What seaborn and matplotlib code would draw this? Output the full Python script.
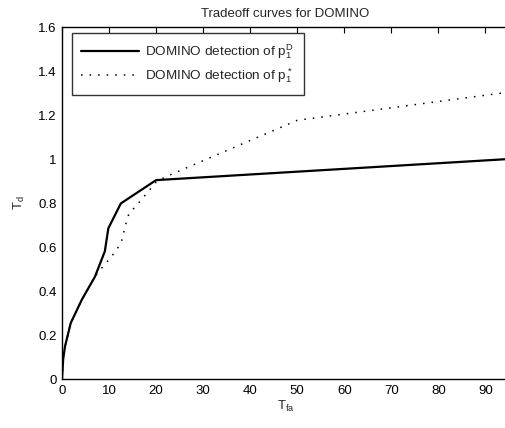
import matplotlib
matplotlib.use("Agg")
import matplotlib.pyplot as plt
import pandas as pd
import seaborn as sns

# values
t_fa_pD = [0, 0.25, 0.64, 1.85, 4.2, 7.0, 9.1, 9.85, 12.5, 20.0, 95.0]
t_d_pD = [0, 0.09, 0.148, 0.254, 0.36, 0.465, 0.58, 0.685, 0.798, 0.904, 1.0]

t_fa_pstar = [0, 0.25, 0.64, 1.85, 4.2, 7.0, 8.1, 10.5, 12.0, 12.7, 13.5, 14.2,
              16.6, 20.0, 22.0, 50.0, 95.0]
t_d_pstar = [0, 0.09, 0.148, 0.254, 0.36, 0.465, 0.496, 0.556, 0.6, 0.63, 0.7, 0.75,
             0.808, 0.895, 0.919, 1.176, 1.304]

labels = ['DOMINO detection of p$_1^D$', 'DOMINO detection of p$_1^*$']

df = pd.concat([
    pd.DataFrame({'T_fa': t_fa_pD, 'T_d': t_d_pD, 'curve': labels[0]}),
    pd.DataFrame({'T_fa': t_fa_pstar, 'T_d': t_d_pstar, 'curve': labels[1]}),
])

sns.set_style('white')
plt.rcParams['font.family'] = ['Liberation Sans', 'DejaVu Sans']
plt.rcParams['mathtext.fontset'] = 'custom'
plt.rcParams['mathtext.rm'] = 'Liberation Sans'
plt.rcParams['mathtext.it'] = 'Liberation Sans'

fig = plt.figure(figsize=(5.06, 4.28), dpi=100)
ax = fig.add_axes([62 / 506, 1 - 379 / 428, (509 - 62) / 506, (379 - 27) / 428])

sns.lineplot(data=df, x='T_fa', y='T_d', hue='curve', style='curve',
             palette=['black', 'black'], sort=False, estimator=None, ax=ax)
ax.lines[0].set_linewidth(1.6)
ax.lines[1].set_linewidth(1.1)
ax.lines[1].set_linestyle((0, (1, 4.6)))

ax.set_xlim(0, 95)
ax.set_ylim(0, 1.6)
ax.set_xticks(range(0, 100, 10))
ax.set_yticks([0, 0.2, 0.4, 0.6, 0.8, 1, 1.2, 1.4, 1.6])
ax.set_yticklabels(['0', '0.2', '0.4', '0.6', '0.8', '1', '1.2', '1.4', '1.6'])
ax.tick_params(direction='in', length=4, width=0.8, top=True, right=False,
               labelsize=9.5, colors='black', pad=4)
for s in ax.spines.values():
    s.set_visible(True)
    s.set_color('black')
    s.set_linewidth(1.0)

ax.set_title('Tradeoff curves for DOMINO', fontsize=9.5, pad=7)
ax.set_xlabel('T$_{fa}$', fontsize=9.5, labelpad=2)
ax.set_ylabel('T$_d$', fontsize=9.5, labelpad=8)

handles, _ = ax.get_legend_handles_labels()
leg = ax.legend(handles, labels, loc='upper left', bbox_to_anchor=(10 / 447, 346 / 352),
                borderaxespad=0, fontsize=9.7, frameon=True, fancybox=False,
                edgecolor='black', handlelength=4.3, handletextpad=0.45,
                borderpad=0.7, labelspacing=0.42)
leg.get_frame().set_linewidth(1.0)
leg.get_lines()[0].set_linewidth(1.6)
leg.get_lines()[1].set_linewidth(1.1)
leg.get_lines()[1].set_linestyle((0, (1, 4.6)))

fig.savefig('out.png', dpi=100)
